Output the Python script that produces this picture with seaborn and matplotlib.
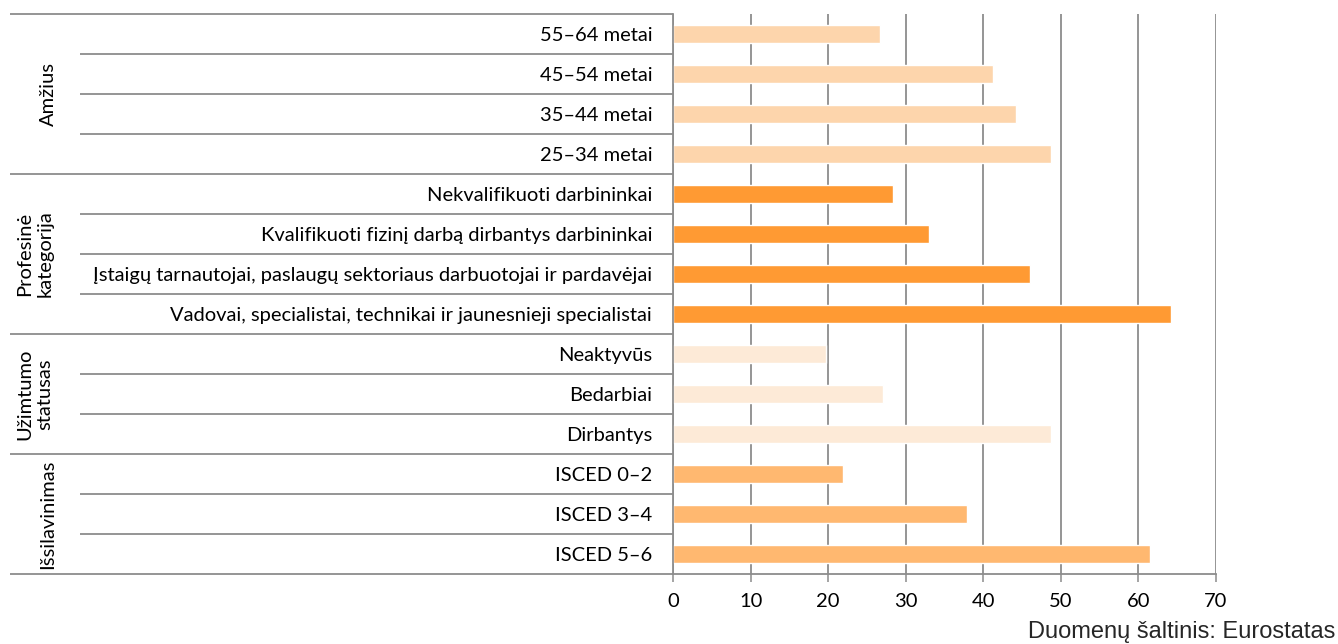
import matplotlib
matplotlib.use("Agg")
import matplotlib.pyplot as plt
import matplotlib.transforms as mtransforms
import seaborn as sns
import pandas as pd

categories = [
    "55–64 metai", "45–54 metai", "35–44 metai", "25–34 metai",
    "Nekvalifikuoti darbininkai",
    "Kvalifikuoti fizinį darbą dirbantys darbininkai",
    "Įstaigų tarnautojai, paslaugų sektoriaus darbuotojai ir pardavėjai",
    "Vadovai, specialistai, technikai ir jaunesnieji specialistai",
    "Neaktyvūs", "Bedarbiai", "Dirbantys",
    "ISCED 0–2", "ISCED 3–4", "ISCED 5–6",
]
values = [26.7, 41.2, 44.2, 48.7,
          28.4, 33.0, 46.0, 64.2,
          19.7, 27.1, 48.7,
          21.9, 37.9, 61.5]
groups = ["Amžius"] * 4 + ["Profesinė\nkategorija"] * 4 + ["Užimtumo\nstatusas"] * 3 + ["Išsilavinimas"] * 3
group_names = ["Amžius", "Profesinė\nkategorija", "Užimtumo\nstatusas", "Išsilavinimas"]
group_colors = ["#FDD5AC", "#FF9A33", "#FDEAD7", "#FFB870"]
x_ticks = [0, 10, 20, 30, 40, 50, 60, 70]
source = "Duomenų šaltinis: Eurostatas"

df = pd.DataFrame({"label": categories, "value": values, "group": groups})

sns.set_theme(style="white")
FONT = ["Lato", "DejaVu Sans"]
plt.rcParams["font.family"] = FONT

W, H = 1338, 644
fig = plt.figure(figsize=(W / 100, H / 100), dpi=100)
ax_left, ax_right, ax_top, ax_bot = 673, 1216, 14, 574
ax = fig.add_axes([ax_left / W, 1 - ax_bot / H, (ax_right - ax_left) / W, (ax_bot - ax_top) / H])

sns.barplot(data=df, y="label", x="value", hue="group", order=categories,
            hue_order=group_names, palette=dict(zip(group_names, group_colors)),
            dodge=False, width=0.47, legend=False, ax=ax, saturation=1, orient="h")

grid_c = "#8C8C8C"
LBL = 14.5
ax.set_xlim(0, 70)
ax.set_ylim(len(categories) - 0.5, -0.5)
ax.set_xticks(x_ticks)
ax.set_xticklabels([str(t) for t in x_ticks], fontsize=14.5, color="#000000")
ax.xaxis.grid(True, color=grid_c, linewidth=1.3)
ax.yaxis.grid(False)
ax.set_axisbelow(True)
ax.set_xlabel("")
ax.set_ylabel("")
for s in ["top", "right"]:
    ax.spines[s].set_visible(False)
ax.spines["left"].set_color(grid_c)
ax.spines["left"].set_linewidth(1.3)
ax.spines["bottom"].set_color(grid_c)
ax.spines["bottom"].set_linewidth(1.3)
ax.tick_params(axis="x", direction="out", length=6, width=1.1, color=grid_c, pad=8, bottom=True)
ax.tick_params(axis="y", length=0, pad=15)
for lab in ax.get_yticklabels():
    lab.set_fontsize(LBL)
    lab.set_color("#000000")

# Left category table lines
trans = mtransforms.blended_transform_factory(fig.transFigure, ax.transData)
x_outer = 10 / W
x_inner = 80 / W
x_axis = ax_left / W
group_bounds = [-0.5]
count = 0
for g in group_names:
    count += groups.count(g)
    group_bounds.append(count - 0.5)
for b in range(len(categories) + 1):
    yb = b - 0.5
    x0 = x_outer if yb in group_bounds else x_inner
    ax.plot([x0, x_axis], [yb, yb], transform=trans, color=grid_c, linewidth=1.3,
            clip_on=False, solid_capstyle="butt")

# group labels
for i, g in enumerate(group_names):
    yc = (group_bounds[i] + group_bounds[i + 1]) / 2
    xc = 35 / W if "\n" in g else 48 / W
    ax.text(xc, yc, g, transform=trans, rotation=90, ha="center", va="center",
            fontsize=LBL, color="#000000", multialignment="center", linespacing=1.2)

fig.text(1335 / W, 1 - 632 / H, source, ha="right", va="center", fontsize=17,
         family=["Liberation Sans", "DejaVu Sans"], color="#262626")

fig.savefig("out.png", dpi=100)
